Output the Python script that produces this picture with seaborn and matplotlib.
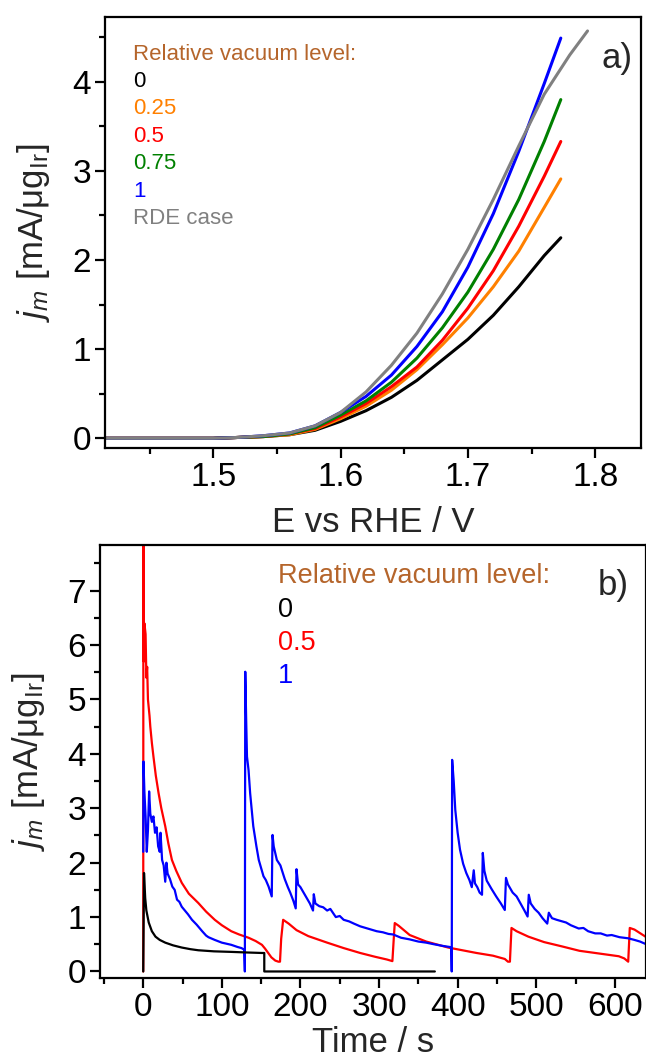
import matplotlib
matplotlib.use("Agg")
import matplotlib.pyplot as plt
import seaborn as sns
import pandas as pd
from matplotlib.ticker import MultipleLocator

# ---------------- data: panel a) polarisation curves ----------------
E_vac = [1.415, 1.50, 1.52, 1.54, 1.56, 1.58, 1.60, 1.62, 1.64, 1.66, 1.68, 1.70, 1.72, 1.74, 1.76, 1.773]
j_lvl_0 = [0, 0, 0.01, 0.02, 0.04, 0.09, 0.19, 0.31, 0.46, 0.65, 0.88, 1.11, 1.38, 1.70, 2.05, 2.25]
j_lvl_025 = [0, 0, 0.01, 0.02, 0.04, 0.10, 0.22, 0.36, 0.54, 0.77, 1.05, 1.35, 1.70, 2.10, 2.59, 2.91]
j_lvl_05 = [0, 0, 0.01, 0.02, 0.05, 0.11, 0.24, 0.39, 0.58, 0.80, 1.10, 1.46, 1.88, 2.38, 2.94, 3.33]
j_lvl_075 = [0, 0, 0.01, 0.02, 0.05, 0.12, 0.26, 0.42, 0.63, 0.90, 1.24, 1.64, 2.12, 2.68, 3.33, 3.80]
j_lvl_1 = [0, 0, 0.01, 0.03, 0.06, 0.14, 0.29, 0.47, 0.71, 1.03, 1.42, 1.92, 2.52, 3.22, 3.98, 4.49]
E_rde = [1.415, 1.50, 1.52, 1.54, 1.56, 1.58, 1.60, 1.62, 1.64, 1.66, 1.68, 1.70, 1.72, 1.74, 1.76, 1.78, 1.794]
j_rde = [0, 0, 0.01, 0.03, 0.06, 0.14, 0.29, 0.52, 0.82, 1.18, 1.62, 2.12, 2.68, 3.28, 3.86, 4.30, 4.57]

labels_a = ["0", "0.25", "0.5", "0.75", "1", "RDE case"]
colors_a = ["#000000", "#FF8000", "#FF0000", "#008000", "#0000FF", "#808080"]

# ---------------- data: panel b) chronoamperometry (time s, j) ----------------
pts_0 = [(0, 0), (1.0, 1.81), (2.5, 1.35), (4, 1.12), (7, 0.90), (11, 0.74), (15.6, 0.64), (21, 0.58),
         (28, 0.53), (38, 0.48), (49, 0.44), (60, 0.41), (70, 0.39), (90, 0.37), (112, 0.36),
         (130, 0.35), (151, 0.34), (154, 0.34), (154, 0.0), (371, 0.0)]

pts_05 = [(0, 0), (0.2, 8.0), (0.8, 5.7), (1.5, 6.4), (3, 6.2), (4, 5.4), (5, 5.6), (6, 5.0), (8, 4.7),
          (9, 4.5), (11, 4.2), (13, 3.95), (16, 3.6), (19.5, 3.28), (23, 3.0), (28, 2.67), (32, 2.35),
          (36.5, 2.05), (42, 1.85), (49, 1.63), (58, 1.43), (70, 1.26), (80, 1.10), (91, 0.95),
          (100, 0.85), (112, 0.74), (122, 0.68), (134, 0.62), (143, 0.56), (151, 0.49), (155, 0.42),
          (159, 0.34), (163, 0.26), (168, 0.20), (172, 0.18), (174, 0.18), (175.5, 0.60), (178, 0.95),
          (185, 0.88), (195, 0.76), (210, 0.65), (234, 0.53), (255, 0.43), (276, 0.34), (295, 0.27),
          (310, 0.22), (317, 0.19), (318.5, 0.55), (320, 0.89), (325, 0.84), (339, 0.67), (360, 0.55),
          (388, 0.44), (424, 0.34), (445, 0.29), (460, 0.23), (464, 0.18), (466.5, 0.18), (468.5, 0.80),
          (475, 0.74), (490, 0.64), (510, 0.54), (533, 0.46), (555, 0.38), (575, 0.34), (595, 0.30),
          (605, 0.28), (612, 0.24), (617, 0.18), (619, 0.80), (625, 0.77), (639, 0.64)]

pts_1 = [(0, 2.2), (0.3, 3.86), (1.5, 3.3), (3, 2.85), (4.5, 2.2), (6, 2.6), (7.5, 3.31), (9, 2.9),
         (11, 2.75), (13, 2.85), (15, 2.55), (17, 2.65), (19, 2.3), (21, 2.2), (22, 2.55), (24, 2.05),
         (26, 1.95), (28, 1.65), (29.5, 2.0), (31, 1.8), (34, 1.7), (37, 1.56), (40, 1.5), (43, 1.32),
         (46, 1.28), (49, 1.19), (53, 1.12), (57, 1.05), (62, 0.95), (68, 0.86), (75, 0.74), (80, 0.66),
         (83, 0.63), (91, 0.58), (100, 0.53), (112, 0.49), (120, 0.45), (125, 0.43), (128.5, 0.40),
         (129.3, 0.0), (129.8, 5.51), (131, 4.6), (132, 3.95), (134, 3.7), (136, 3.28), (140, 2.67),
         (144, 2.3), (147, 2.05), (150, 1.9), (153, 1.75), (156, 1.68), (159.5, 1.56), (163.5, 1.38),
         (164.5, 2.51), (166, 2.3), (170, 2.05), (174.5, 1.95), (180, 1.7), (184, 1.55), (187, 1.45),
         (191, 1.3), (194, 1.16), (195, 1.88), (197, 1.6), (200, 1.55), (204, 1.45), (208, 1.35),
         (212, 1.25), (216, 1.12), (217, 1.42), (219, 1.25), (224, 1.2), (229, 1.18), (234, 1.12),
         (238, 1.15), (245, 1.0), (250, 1.02), (255, 0.95), (262, 0.92), (268, 0.88), (276, 0.83),
         (283, 0.80), (290, 0.77), (297, 0.74), (305, 0.72), (312, 0.69), (318, 0.68), (328, 0.62),
         (339, 0.59), (350, 0.55), (360, 0.53), (370, 0.50), (381, 0.47), (390, 0.45), (392, 0.43),
         (392.5, 0.0), (393, 3.89), (395, 3.5), (397, 2.97), (400, 2.55), (403, 2.24), (407, 1.98),
         (411, 1.81), (415, 1.68), (418, 1.55), (420.5, 1.86), (422, 1.62), (425, 1.55), (428, 1.45),
         (431, 1.41), (432, 2.18), (434, 1.85), (437, 1.67), (443, 1.52), (449, 1.38), (455, 1.25),
         (460, 1.13), (461.5, 1.72), (464, 1.6), (470, 1.45), (475, 1.38), (480, 1.25), (485, 1.12),
         (489, 1.01), (490.5, 1.41), (493, 1.25), (498, 1.15), (503, 1.08), (508, 0.98), (514, 0.88),
         (516, 1.08), (520, 0.98), (526, 0.95), (533, 0.92), (538, 0.90), (544, 0.85), (549, 0.82),
         (554, 0.79), (560, 0.80), (566, 0.74), (575, 0.70), (582, 0.70), (590, 0.66), (596, 0.67),
         (606, 0.63), (617, 0.61), (625, 0.58), (632, 0.55), (640, 0.50)]

labels_b = ["0", "0.5", "1"]
colors_b = ["#000000", "#FF0000", "#0000FF"]

legend_title = "Relative vacuum level:"
title_color = "#B5652B"

# ---------------- style ----------------
sns.set_style("ticks")
plt.rcParams["font.family"] = ["Liberation Sans", "DejaVu Sans"]
plt.rcParams["mathtext.fontset"] = "custom"
plt.rcParams["mathtext.rm"] = "Liberation Sans"
plt.rcParams["mathtext.it"] = "Liberation Sans:italic"

W, H = 646, 1064
fig = plt.figure(figsize=(W / 100, H / 100), dpi=100)
ax1 = fig.add_axes([105 / W, 1 - 448.3 / H, 536 / W, 431.6 / H])
ax2 = fig.add_axes([100 / W, 1 - 978 / H, 545.5 / W, 433 / H])

# ---------------- panel a ----------------
series_a = [(E_vac, j_lvl_0), (E_vac, j_lvl_025), (E_vac, j_lvl_05),
            (E_vac, j_lvl_075), (E_vac, j_lvl_1), (E_rde, j_rde)]
frames = []
for lab, (ex, jy) in zip(labels_a, series_a):
    frames.append(pd.DataFrame({"E": ex, "j": jy, "level": lab}))
df_a = pd.concat(frames, ignore_index=True)
sns.lineplot(data=df_a, x="E", y="j", hue="level", hue_order=labels_a,
             palette=dict(zip(labels_a, colors_a)), sort=False, estimator=None,
             linewidth=2.2, legend=False, ax=ax1)

ax1.set_xlim(1.415, 1.836)
ax1.set_ylim(-0.112, 4.73)
ax1.xaxis.set_major_locator(MultipleLocator(0.1))
ax1.xaxis.set_minor_locator(MultipleLocator(0.05))
ax1.yaxis.set_major_locator(MultipleLocator(1))
ax1.yaxis.set_minor_locator(MultipleLocator(0.5))

ax1.text(0.052, 0.8997, legend_title, transform=ax1.transAxes, fontsize=16,
         color=title_color, va="baseline", ha="left")
for i, (lab, c) in enumerate(zip(labels_a, colors_a)):
    ax1.text(0.052, 0.8378 - i * 0.0637, lab, transform=ax1.transAxes, fontsize=16,
             color=c, va="baseline", ha="left")
ax1.text(0.927, 0.880, "a)", transform=ax1.transAxes, fontsize=25, va="baseline", ha="left")

ax1.set_xlabel("E vs RHE / V", fontsize=25, va="baseline")
ax1.xaxis.set_label_coords(0.5, -0.194)
ax1.set_ylabel(r"$j_m$ [mA/μg$_{\mathrm{Ir}}$]", fontsize=25)
ax1.yaxis.set_label_coords(-0.099, 0.5)

# ---------------- panel b ----------------
series_b = [pts_0, pts_05, pts_1]
frames = []
for lab, pts in zip(labels_b, series_b):
    frames.append(pd.DataFrame({"t": [p[0] for p in pts], "j": [p[1] for p in pts], "level": lab}))
df_b = pd.concat(frames, ignore_index=True)
draw_order = ["0.5", "1", "0"]
sns.lineplot(data=df_b, x="t", y="j", hue="level", hue_order=draw_order,
             palette=dict(zip(labels_b, colors_b)), sort=False, estimator=None,
             linewidth=1.6, legend=False, ax=ax2)

ax2.set_xlim(-55, 639)
ax2.set_ylim(-0.12, 7.84)
ax2.xaxis.set_major_locator(MultipleLocator(100))
ax2.xaxis.set_minor_locator(MultipleLocator(50))
ax2.yaxis.set_major_locator(MultipleLocator(1))
ax2.yaxis.set_minor_locator(MultipleLocator(0.5))

ax2.text(0.326, 0.912, legend_title, transform=ax2.transAxes, fontsize=19.5,
         color=title_color, va="baseline", ha="left")
for i, (lab, c) in enumerate(zip(labels_b, colors_b)):
    ax2.text(0.326, 0.834 - i * 0.0765, lab, transform=ax2.transAxes, fontsize=19.5,
             color=c, va="baseline", ha="left")
ax2.text(0.913, 0.8845, "b)", transform=ax2.transAxes, fontsize=25, va="baseline", ha="left")

ax2.set_xlabel("Time / s", fontsize=25, va="baseline")
ax2.xaxis.set_label_coords(0.5, -0.170)
ax2.set_ylabel(r"$j_m$ [mA/μg$_{\mathrm{Ir}}$]", fontsize=25)
ax2.yaxis.set_label_coords(-0.097, 0.5)

for ax in (ax1, ax2):
    for s in ax.spines.values():
        s.set_visible(True)
        s.set_linewidth(1.6)
        s.set_color("black")
    ax.tick_params(which="major", direction="out", length=7, width=1.6, labelsize=24,
                   top=False, right=False, pad=3, colors="black")
    ax.tick_params(which="minor", direction="out", length=4, width=1.6,
                   top=False, right=False, colors="black")
    ax.grid(False)

fig.savefig("out.png", dpi=100, facecolor="white")
